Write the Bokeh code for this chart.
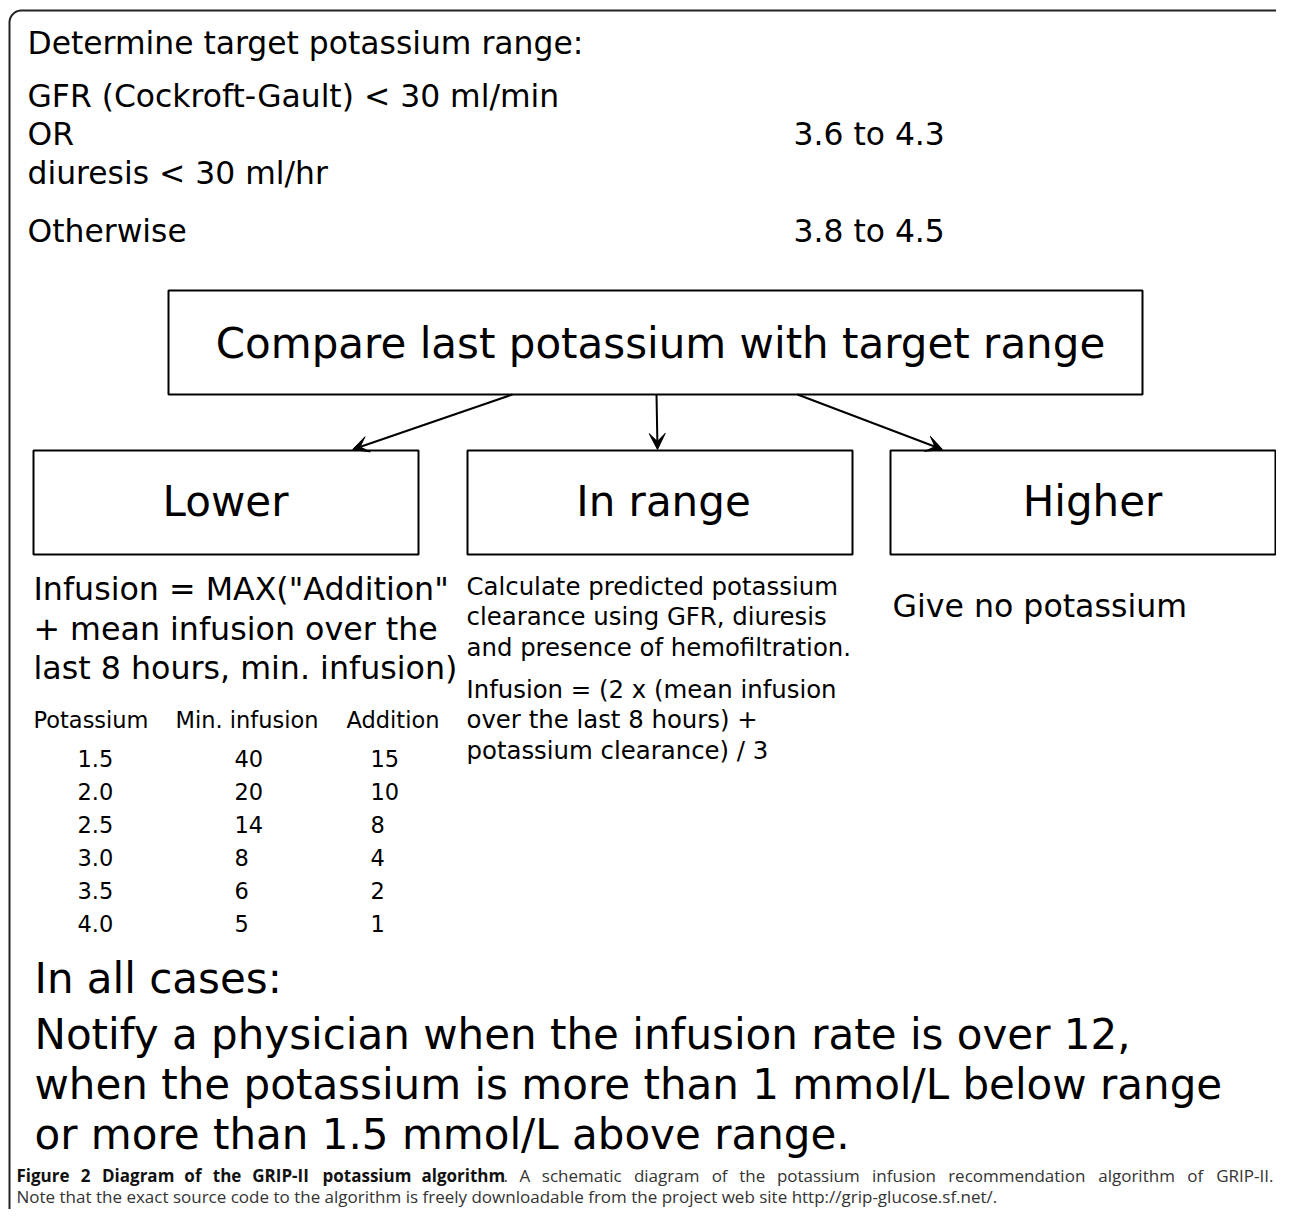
import numpy as np
from bokeh.plotting import figure
from bokeh.models import Range1d, Arrow, VeeHead
from bokeh.core.properties import value
from bokeh.embed import file_html
from bokeh.resources import INLINE

# ---------------- data (texts) ----------------
header_title = "Determine target potassium range:"
condition_lines = ["GFR (Cockroft-Gault) < 30 ml/min", "OR", "diuresis < 30 ml/hr", "Otherwise"]
target_ranges = ["3.6 to 4.3", "3.8 to 4.5"]
compare_label = "Compare last potassium with target range"
branch_labels = ["Lower", "In range", "Higher"]
lower_formula = ['Infusion = MAX("Addition"', "+ mean infusion over the", "last 8 hours, min. infusion)"]
table_headers = ["Potassium", "Min. infusion", "Addition"]
potassium = ["1.5", "2.0", "2.5", "3.0", "3.5", "4.0"]
min_infusion = ["40", "20", "14", "8", "6", "5"]
addition = ["15", "10", "8", "4", "2", "1"]
inrange_text = ["Calculate predicted potassium", "clearance using GFR, diuresis",
                "and presence of hemofiltration."]
inrange_formula = ["Infusion = (2 x (mean infusion", "over the last 8 hours) +",
                   "potassium clearance) / 3"]
higher_text = "Give no potassium"
all_cases = ["In all cases:",
             "Notify a physician when the infusion rate is over 12,",
             "when the potassium is more than 1 mmol/L below range",
             "or more than 1.5 mmol/L above range."]
caption_bold = "Figure 2 Diagram of the GRIP-II potassium algorithm"
caption_rest = ". A schematic diagram of the potassium infusion recommendation algorithm of GRIP-II."
caption_line2 = ("Note that the exact source code to the algorithm is freely downloadable "
                 "from the project web site http://grip-glucose.sf.net/.")

# ---------------- layout ----------------
W, H = 1276, 1209
p = figure(width=W, height=H, output_backend="svg", toolbar_location=None,
           x_range=Range1d(0, W), y_range=Range1d(H, 0),
           min_border=0, outline_line_color=None)
p.axis.visible = False
p.grid.visible = False

DV = value("DejaVu Sans")
OS = value("Open Sans")

def txt(x, y, texts, size, align="left", font=DV, style="normal", color="black"):
    if isinstance(texts, str):
        texts = [texts]
    if np.isscalar(y):
        y = [y] * len(texts)
    if np.isscalar(x):
        x = [x] * len(texts)
    p.text(x=list(x), y=list(y), text=texts, text_font=font, text_font_size=f"{size}px",
           text_align=align, text_baseline="middle", text_color=color, text_font_style=style)

# outer rounded border
r = 12
L, T, R = 9, 10, 1291
a1 = np.linspace(np.pi, 1.5 * np.pi, 20)
a2 = np.linspace(1.5 * np.pi, 2 * np.pi, 20)
bx = [L] + list(L + r + r * np.cos(a1)) + list(R - r + r * np.cos(a2)) + [R]
by = [1225] + list(T + r + r * np.sin(a1)) + list(T + r + r * np.sin(a2)) + [1225]
p.line(bx, by, line_color="#222222", line_width=2)

# header
txt(27, 42, header_title, 31.4)
txt(27, [95, 133, 172, 230], condition_lines, 31.4)
txt(793, [133, 230], target_ranges, 31.4)

# boxes
box_l = [168, 33, 467, 890]
box_r = [1142, 418, 852, 1275]
box_t = [290, 450, 450, 450]
box_b = [394, 554, 554, 554]
p.quad(left=box_l, right=box_r, top=box_t, bottom=box_b, fill_color=None,
       line_color="black", line_width=2)
txt(660, 343, compare_label, 42, align="center")
txt([225, 663, 1092], 501, branch_labels, 42, align="center")

# arrows
for (xa, ya, xb, yb) in [(512, 394, 352, 449), (656, 394, 657, 449), (797, 394, 942, 449)]:
    p.add_layout(Arrow(x_start=xa, y_start=ya, x_end=xb, y_end=yb, line_width=2,
                       line_color="black",
                       end=VeeHead(size=16, line_color="black", fill_color="black",
                                   line_width=1)))

# lower branch
txt(33, [588, 628, 667], lower_formula, 31.7)
txt([33, 175, 346], 719, table_headers, 22.5)
rows_y = [758, 791, 824, 857, 890, 923]
txt(77, rows_y, potassium, 22.5)
txt(234, rows_y, min_infusion, 22.5)
txt(370, rows_y, addition, 22.5)

# in range branch
txt(466, [586, 616, 647], inrange_text, 24.4)
txt(466, [689, 719, 750], inrange_formula, 24.4)

# higher branch
txt(892, 605, higher_text, 31.6)

# all cases
txt(34, [978, 1034, 1084, 1134], all_cases, 42)

# caption line 1: justified, bold lead + regular rest (approx. Open Sans advances, em units)
REG = dict(a=.556, b=.613, c=.476, d=.613, e=.561, f=.339, g=.548, h=.614, i=.253, j=.253,
           k=.525, l=.253, m=.930, n=.614, o=.604, p=.613, q=.613, r=.408, s=.477, t=.353,
           u=.614, v=.5, w=.778, x=.524, y=.501, z=.451, A=.633, D=.722, F=.541, G=.708,
           I=.3, P=.603, R=.618)
REG.update({".": .266, "-": .322, "2": .572})
BOLD = dict(a=.59, b=.617, c=.514, d=.617, e=.586, f=.379, g=.547, h=.635, i=.295, j=.295,
            k=.597, l=.295, m=.956, n=.635, o=.614, p=.617, q=.617, r=.443, s=.489, t=.411,
            u=.635, v=.565, w=.839, x=.580, y=.565, z=.497, A=.690, D=.711, F=.573, G=.707,
            I=.366, P=.641, R=.660)
BOLD.update({".": .286, "-": .322, "2": .572})

def wlen(word, bold, size):
    tab = BOLD if bold else REG
    return sum(tab.get(ch, .56) for ch in word) * size * 1.01

CAP = 17
x0, x1 = 16, 1273
tokens = [(w, True, True) for w in caption_bold.split(" ")]
rest_words = caption_rest.split(" ")
tokens.append((rest_words[0], False, False))           # "." glued to the bold word
tokens += [(w, False, True) for w in rest_words[1:]]
widths = [wlen(w, b, CAP) for w, b, _ in tokens]
n_gaps = sum(1 for _, _, g in tokens[1:] if g)
gap = (x1 - x0 - sum(widths)) / n_gaps
xs, cur = [], x0
for i, (w, b, g) in enumerate(tokens):
    if i > 0 and g:
        cur += gap
    xs.append(cur)
    cur += widths[i]
bold_x = [x for x, t in zip(xs, tokens) if t[1]]
bold_t = [t[0] for t in tokens if t[1]]
reg_x = [x for x, t in zip(xs, tokens) if not t[1]]
reg_t = [t[0] for t in tokens if not t[1]]
txt(bold_x, 1175, bold_t, CAP, font=OS, style="bold", color="#111111")
txt(reg_x[:-1], 1175, reg_t[:-1], CAP, font=OS, color="#333333")
txt(x1, 1175, reg_t[-1], CAP, align="right", font=OS, color="#333333")
txt(16, 1196, caption_line2, CAP, font=OS, color="#333333")

open("out.html", "w").write(file_html(p, INLINE))
